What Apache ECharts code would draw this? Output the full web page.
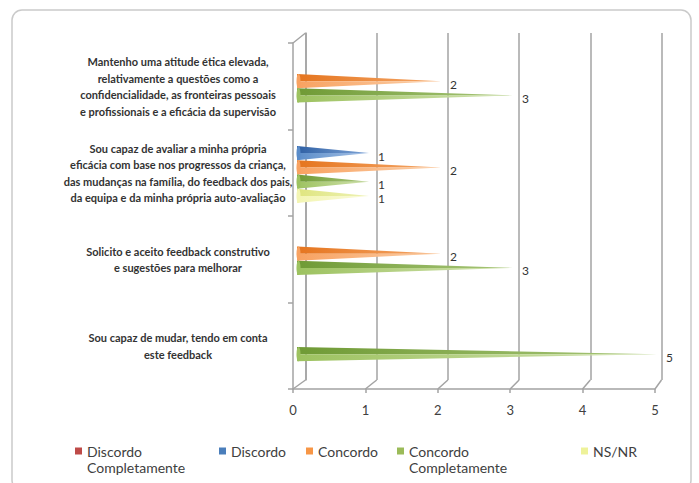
<!DOCTYPE html>
<html><head><meta charset="utf-8">
<script src="https://cdn.jsdelivr.net/npm/echarts@6/dist/echarts.min.js"></script>
<style>html,body{margin:0;padding:0;background:#fff}#c{width:699px;height:483px}</style>
</head><body><div id="c"></div>
<script>
// ---- data ----
const categories = [
  'Mantenho uma atitude ética elevada,\nrelativamente a questões como a\nconfidencialidade, as fronteiras pessoais\ne profissionais e a eficácia da supervisão',
  'Sou capaz de avaliar a minha própria\neficácia com base nos progressos da criança,\ndas mudanças na família, do feedback dos pais,\nda equipa e da minha própria auto-avaliação',
  'Solicito e aceito feedback construtivo\ne sugestões para melhorar',
  'Sou capaz de mudar, tendo em conta\neste feedback'
];
const seriesNames = ['Discordo Completamente', 'Discordo', 'Concordo', 'Concordo Completamente', 'NS/NR'];
const discordoCompletamente = [0, 0, 0, 0];
const discordo = [0, 1, 0, 0];
const concordo = [2, 2, 2, 0];
const concordoCompletamente = [3, 1, 3, 5];
const nsnr = [0, 1, 0, 0];
const xTickValues = [0, 1, 2, 3, 4, 5];

// ---- styles ----
const seriesValues = [discordoCompletamente, discordo, concordo, concordoCompletamente, nsnr];
const palette = [
  {legend:'#be4b48', top:'#9c3a38', bot:'#c65a57', tipTop:'#d98e8c', tipBot:'#e8b5b3'},
  {legend:'#4a7ebb', top:'#2f60a4', bot:'#5a8cc9', tipTop:'#7fa4d6', tipBot:'#a9c3e6'},
  {legend:'#f79646', top:'#e5751f', bot:'#f8a261', tipTop:'#f5a869', tipBot:'#fbcfa8'},
  {legend:'#9bbb59', top:'#6f9a35', bot:'#9dc260', tipTop:'#a9c77a', tipBot:'#d2e3b0'},
  {legend:'#eef29a', top:'#dfe57f', bot:'#f3f5b3', tipTop:'#eef2b6', tipBot:'#f9fad8'}
];
const legendX = [75, 219, 306, 397, 581];
const FONT = 'Lato, "Open Sans", sans-serif';
const GRID_LINE = '#a3a3a3';

// layout
const FRONT = {left: 293, top: 43, width: 362, height: 346};
const BACK  = {left: 305.5, top: 33, width: 356, height: 347};
const BARS  = {left: 297, top: 38, width: 360, height: 345};

function grad(a, b) {
  return new echarts.graphic.LinearGradient(0, 0, 1, 0, [{offset: 0, color: a}, {offset: 1, color: b}]);
}

function makeRender(sIdx) {
  const p = palette[sIdx];
  return function (params, api) {
    const v = api.value(0);
    if (!v) return null;
    const cat = api.value(1);
    const tip = api.coord([v, cat]);
    const base = api.coord([0, cat]);
    const band = api.size([0, 1])[1];
    const slot = band * 0.1657;
    const h = slot * 1.0;
    const yc = tip[1] + (sIdx - 2) * slot;
    const x0 = base[0], x1 = tip[0];
    return {
      type: 'group',
      children: [
        {type: 'polygon', shape: {points: [[x0, yc - h / 2], [x1, yc], [x0, yc]]}, style: {fill: grad(p.top, p.tipTop)}},
        {type: 'polygon', shape: {points: [[x0, yc], [x1, yc], [x0, yc + h / 2]]}, style: {fill: grad(p.bot, p.tipBot)}},
        {type: 'ellipse', shape: {cx: x0 + 1.5, cy: yc, rx: 2, ry: h / 2}, style: {fill: p.bot}},
        {type: 'text', style: {text: String(v), x: x1 + 9, y: yc + 3, fill: '#333', font: '12px ' + FONT, align: 'left', verticalAlign: 'middle'}}
      ]
    };
  };
}

const chart = echarts.init(document.getElementById('c'), null, {renderer: 'svg'});

const series = seriesNames.map((name, i) => ({
  name: name,
  type: 'custom',
  xAxisIndex: 2,
  yAxisIndex: 2,
  renderItem: makeRender(i),
  itemStyle: {color: palette[i].legend},
  encode: {x: 0, y: 1},
  data: seriesValues[i].map((v, c) => [v, c]),
  silent: true,
  z: 5
}));

const legends = seriesNames.map((name, i) => {
  const twoLine = name.indexOf(' Completamente') >= 0;
  return {
    data: [name],
    left: legendX[i],
    top: twoLine ? 427 : 443,
    padding: 0,
    itemWidth: 7,
    itemHeight: 7,
    itemGap: 0,
    icon: 'rect',
    selectedMode: false,
    formatter: n => (twoLine ? '\n' + n.replace(' Completamente', '\nCompletamente') : n),
    textStyle: {
      fontFamily: FONT, fontSize: 14, color: '#404040', lineHeight: 16
    }
  };
});

const option = {
  backgroundColor: '#ffffff',
  animation: false,
  grid: [
    Object.assign({containLabel: false}, FRONT),
    Object.assign({containLabel: false}, BACK),
    Object.assign({containLabel: false}, BARS)
  ],
  legend: legends,
  xAxis: [
    {
      gridIndex: 0, type: 'value', min: 0, max: 5, interval: 1,
      axisLine: {show: true, lineStyle: {color: GRID_LINE, width: 1.5}},
      axisTick: {show: true, length: 4, lineStyle: {color: GRID_LINE, width: 1.5}},
      axisLabel: {margin: 14, fontFamily: FONT, fontSize: 13, color: '#404040',
        formatter: v => (xTickValues.indexOf(v) >= 0 ? String(v) : '')},
      splitLine: {show: false}
    },
    {
      gridIndex: 1, type: 'value', min: 0, max: 5, interval: 1,
      axisLine: {show: false}, axisTick: {show: false}, axisLabel: {show: false},
      splitLine: {show: true, lineStyle: {color: GRID_LINE, width: 1.5}}
    },
    {
      gridIndex: 2, type: 'value', min: 0, max: 5, interval: 1,
      axisLine: {show: false}, axisTick: {show: false}, axisLabel: {show: false}, splitLine: {show: false}
    }
  ],
  yAxis: [
    {
      gridIndex: 0, type: 'category', inverse: true, data: categories,
      axisLine: {show: true, lineStyle: {color: GRID_LINE, width: 1.5}},
      axisTick: {show: true, length: 5, lineStyle: {color: GRID_LINE, width: 1.5}},
      axisLabel: {margin: 115, align: 'center', fontFamily: FONT, fontSize: 11, fontWeight: 'bold',
        color: '#333333', lineHeight: 16.5},
      splitLine: {show: false}
    },
    {
      gridIndex: 1, type: 'category', inverse: true, data: categories,
      axisLine: {show: true, lineStyle: {color: GRID_LINE, width: 1.5}}, axisTick: {show: false}, axisLabel: {show: false}
    },
    {
      gridIndex: 2, type: 'category', inverse: true, data: categories, show: false
    }
  ],
  series: series
};
chart.setOption(option);

// 3D frame connectors from axis scales
const frontBottom = FRONT.top + FRONT.height, backBottom = BACK.top + BACK.height;
const gfx = [];
xTickValues.forEach(v => {
  const fx = chart.convertToPixel({xAxisIndex: 0}, v);
  const bx = chart.convertToPixel({xAxisIndex: 1}, v);
  gfx.push({type: 'line', shape: {x1: fx, y1: frontBottom, x2: bx, y2: backBottom},
    style: {stroke: GRID_LINE, lineWidth: 1.5}, silent: true});
});
const fx0 = chart.convertToPixel({xAxisIndex: 0}, 0);
const bx0 = chart.convertToPixel({xAxisIndex: 1}, 0);
gfx.push({type: 'line', shape: {x1: fx0, y1: FRONT.top, x2: bx0, y2: BACK.top},
  style: {stroke: GRID_LINE, lineWidth: 1.5}, silent: true});
gfx.push({type: 'rect', shape: {x: 12, y: 10, width: 679, height: 480, r: 10},
  style: {fill: 'none', stroke: '#cacaca', lineWidth: 1.5}, silent: true, z: -1});
chart.setOption({graphic: gfx});
</script>
</body></html>
